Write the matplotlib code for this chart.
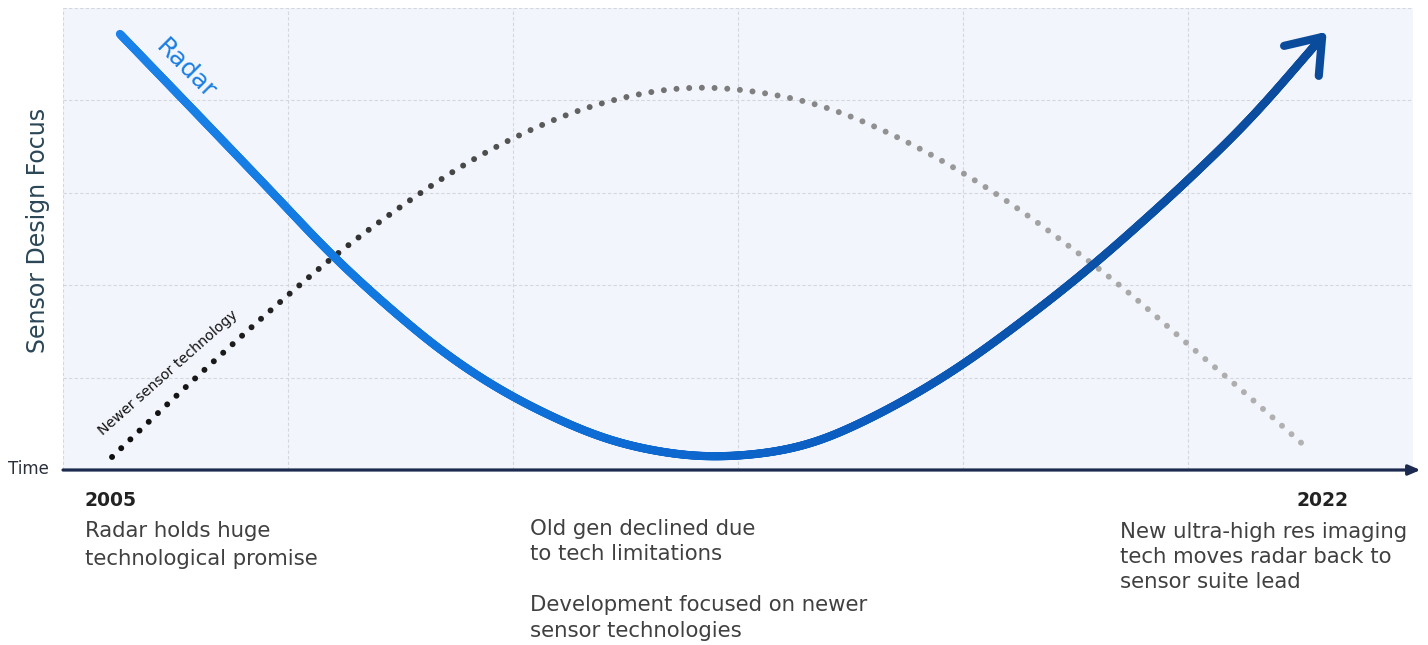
import numpy as np
import matplotlib
matplotlib.use("Agg")
import matplotlib.pyplot as plt
from matplotlib.collections import LineCollection
from matplotlib.colors import LinearSegmentedColormap

# Radar design focus over time (x: time in grid columns, y: focus level)
radar_t = [0.253, 0.609, 0.920, 1.209, 1.498, 1.720, 2.000, 2.387, 2.609,
           2.876, 3.276, 3.573, 3.942, 4.311, 4.578, 4.831, 5.000, 5.276, 5.596]
radar_focus = [4.719, 3.820, 3.030, 2.294, 1.656, 1.223, 0.790, 0.357, 0.216,
               0.141, 0.249, 0.541, 1.050, 1.699, 2.219, 2.760, 3.139, 3.799, 4.686]

# Newer sensor technology focus over the same period
newer_t = [0.218, 0.422, 0.676, 0.929, 1.200, 1.467, 1.751, 2.000, 2.320,
           2.653, 2.831, 2.996, 3.333, 3.653, 4.009, 4.298, 4.476, 4.707,
           5.044, 5.182, 5.524]
newer_focus = [0.141, 0.617, 1.190, 1.742, 2.305, 2.792, 3.258, 3.593, 3.918,
               4.113, 4.145, 4.123, 3.972, 3.669, 3.203, 2.738, 2.413, 1.981,
               1.266, 0.985, 0.249]

start_year = "2005"
end_year = "2022"
note_start = "Radar holds huge\ntechnological promise"
note_mid_1 = "Old gen declined due\nto tech limitations"
note_mid_2 = "Development focused on newer\nsensor technologies"
note_end = "New ultra-high res imaging\ntech moves radar back to\nsensor suite lead"

plt.rcParams["font.family"] = ["DejaVu Sans"]

W, H = 1428, 645
fig = plt.figure(figsize=(W / 100, H / 100), dpi=100)
fig.patch.set_facecolor("white")

ax_l, ax_r, ax_t, ax_b = 63, 1413, 8, 470
ax = fig.add_axes([ax_l / W, 1 - ax_b / H, (ax_r - ax_l) / W, (ax_b - ax_t) / H])
ax.set_facecolor("#f2f5fb")
ax.set_xlim(0, 6)
ax.set_ylim(0, 5)
ax.set_xticks(range(0, 6))
ax.set_yticks(range(1, 6))
ax.grid(True, color="#d4d7de", linestyle=(0, (3, 2)), linewidth=0.8)
ax.tick_params(length=0, labelbottom=False, labelleft=False)
for s in ax.spines.values():
    s.set_visible(False)

# time axis with arrow
ax.annotate("", xy=(1.0055, 0), xytext=(0, 0),
            xycoords="axes fraction", textcoords="axes fraction",
            arrowprops=dict(arrowstyle="-|>,head_length=0.7,head_width=0.3",
                            color="#1b2a4e", lw=2.3, shrinkA=0, shrinkB=0),
            annotation_clip=False, zorder=5)


def smooth_px(xs, ys, n=60, alpha=0.5, sigma=22.0):
    """Smooth curve through the points, returned in display pixels.

    A centripetal Catmull-Rom spline is resampled at 1 px steps along its
    length and then lightly Gaussian-filtered so the stroke has no kinks.
    """
    P = ax.transData.transform(np.column_stack([xs, ys]))
    P = np.vstack([2 * P[0] - P[1], P, 2 * P[-1] - P[-2]])
    out = []
    for i in range(len(P) - 3):
        p0, p1, p2, p3 = P[i], P[i + 1], P[i + 2], P[i + 3]
        t0 = 0.0
        t1 = t0 + np.linalg.norm(p1 - p0) ** alpha
        t2 = t1 + np.linalg.norm(p2 - p1) ** alpha
        t3 = t2 + np.linalg.norm(p3 - p2) ** alpha
        t = np.linspace(t1, t2, n, endpoint=False)[:, None]
        A1 = (t1 - t) / (t1 - t0) * p0 + (t - t0) / (t1 - t0) * p1
        A2 = (t2 - t) / (t2 - t1) * p1 + (t - t1) / (t2 - t1) * p2
        A3 = (t3 - t) / (t3 - t2) * p2 + (t - t2) / (t3 - t2) * p3
        B1 = (t2 - t) / (t2 - t0) * A1 + (t - t0) / (t2 - t0) * A2
        B2 = (t3 - t) / (t3 - t1) * A2 + (t - t1) / (t3 - t1) * A3
        out.append((t2 - t) / (t2 - t1) * B1 + (t - t1) / (t2 - t1) * B2)
    out.append(P[-2][None, :])
    C = np.vstack(out)

    # resample evenly by arc length
    arc = np.concatenate([[0], np.cumsum(np.hypot(*np.diff(C, axis=0).T))])
    s = np.linspace(0, arc[-1], int(arc[-1]) + 1)
    C = np.column_stack([np.interp(s, arc, C[:, 0]), np.interp(s, arc, C[:, 1])])

    # Gaussian filter with odd reflection at the ends (keeps endpoints fixed)
    k = int(3 * sigma)
    g = np.exp(-0.5 * (np.arange(-k, k + 1) / sigma) ** 2)
    g /= g.sum()
    head = 2 * C[0] - C[k:0:-1]
    tail = 2 * C[-1] - C[-2:-k - 2:-1]
    ext = np.vstack([head, C, tail])
    sm = np.column_stack([np.convolve(ext[:, j], g, mode="valid") for j in (0, 1)])
    return sm


to_data = ax.transData.inverted()

# ---- newer sensor technology: dotted, black fading to grey
dots_px = smooth_px(newer_t, newer_focus)
seg = np.hypot(*np.diff(dots_px, axis=0).T)
arc = np.concatenate([[0], np.cumsum(seg)])
spacing = 12.7
s_pos = np.arange(0, arc[-1] + 0.1, spacing)
dx = np.interp(s_pos, arc, dots_px[:, 0])
dy = np.interp(s_pos, arc, dots_px[:, 1])
dot_pts = to_data.transform(np.column_stack([dx, dy]))
grey_cmap = LinearSegmentedColormap.from_list(
    "fade", [(0, "#0e0e0e"), (0.12, "#1e1e1e"), (0.24, "#3a3a3a"),
             (0.35, "#585858"), (0.5, "#7a7a7a"), (0.65, "#919191"),
             (0.8, "#a4a4a4"), (1, "#b2b2b2")])
xfrac = (dot_pts[:, 0] - dot_pts[0, 0]) / (dot_pts[-1, 0] - dot_pts[0, 0])
ax.scatter(dot_pts[:, 0], dot_pts[:, 1], s=18, c=grey_cmap(xfrac),
           linewidths=0, zorder=3)

# ---- radar: thick gradient line ending in an open arrowhead
radar_px = smooth_px(radar_t, radar_focus)
radar_pts = to_data.transform(radar_px)
segs = np.stack([radar_pts[:-1], radar_pts[1:]], axis=1)
rseg = np.hypot(*np.diff(radar_px, axis=0).T)
rarc = np.concatenate([[0], np.cumsum(rseg)])
blue_cmap = LinearSegmentedColormap.from_list(
    "radar", [(0, "#1a82e9"), (0.25, "#1178e0"), (0.45, "#0d6ad2"),
              (0.6, "#0b5cbf"), (0.75, "#0a52a9"), (1, "#0b4b9c")])
frac = (rarc[:-1] + rarc[1:]) / 2 / rarc[-1]
lc = LineCollection(segs, colors=blue_cmap(frac), linewidths=5.9,
                    capstyle="round", joinstyle="round", zorder=4)
ax.add_collection(lc)

tip = radar_px[-1]
back_idx = np.searchsorted(rarc, rarc[-1] - 30)
d = radar_px[back_idx] - tip
d = d / np.linalg.norm(d)
arm_len, half = 39, np.deg2rad(36)
arms = []
for sgn in (1, -1):
    c, s = np.cos(sgn * half), np.sin(sgn * half)
    arms.append(tip + arm_len * np.array([c * d[0] - s * d[1], s * d[0] + c * d[1]]))
head = to_data.transform(np.vstack([arms[0], tip, arms[1]]))
ax.plot(head[:, 0], head[:, 1], color="#0b4b9c", lw=5.9,
        solid_capstyle="round", solid_joinstyle="round", zorder=4)

# ---- labels on the curves
ax.text(0.543, 4.34, "Radar", rotation=-45, color="#1a7ee3", fontsize=18,
        ha="center", va="center", rotation_mode="anchor", zorder=6)
ax.text(0.465, 1.05, "Newer sensor technology", rotation=41.5, color="#111111",
        fontsize=10.3, ha="center", va="center", rotation_mode="anchor", zorder=6)

# ---- axis titles
fig.text(38 / W, 1 - 230 / H, "Sensor Design Focus", rotation=90,
         color="#2b4656", fontsize=17, ha="center", va="center")
fig.text(8 / W, 1 - 469 / H, "Time", color="#2a2f3a", fontsize=12,
         ha="left", va="center")

# ---- period notes below the axis
txt_col = "#404040"
fig.text(85 / W, 1 - 500 / H, start_year, color="#222222", fontsize=13.5,
         fontweight="bold", ha="left", va="center")
fig.text(1348 / W, 1 - 500 / H, end_year, color="#222222", fontsize=13.5,
         fontweight="bold", ha="right", va="center")


def note(x_px, y_px, text, step):
    for i, line in enumerate(text.split("\n")):
        fig.text(x_px / W, 1 - (y_px + i * step) / H, line, color=txt_col,
                 fontsize=15.3, ha="left", va="center")


note(85, 531, note_start, 28)
note(530, 529, note_mid_1, 25)
note(530, 605, note_mid_2, 26)
note(1120, 532, note_end, 25)

fig.savefig("out.png", dpi=100)
